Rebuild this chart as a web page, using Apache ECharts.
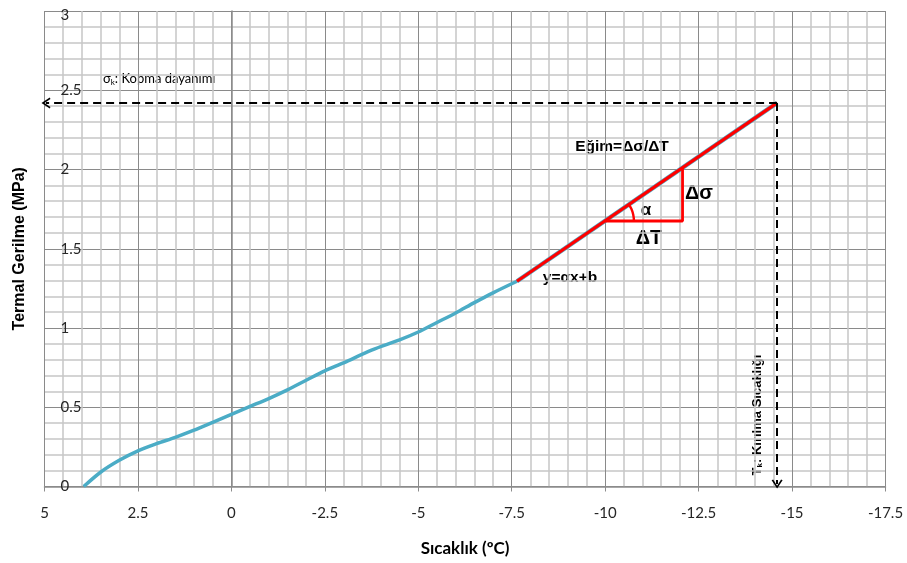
<!DOCTYPE html>
<html>
<head>
<meta charset="utf-8">
<script src="https://cdn.jsdelivr.net/npm/echarts@6/dist/echarts.min.js"></script>
<style>
  html, body { margin: 0; padding: 0; background: #fff; }
  #chart { width: 907px; height: 563px; }
</style>
</head>
<body>
<div id="chart"></div>
<script>
// Measured thermal stress vs. temperature (cooling test)
const temperature = [3.95, 3.5, 3.0, 2.5, 2.0, 1.5, 1.0, 0.5, 0, -0.5, -1.0, -1.5, -2.0, -2.5, -3.0,
                     -3.75, -4.5, -5.0, -5.5, -6.0, -6.5, -7.0, -7.64];
const stress      = [0, 0.09, 0.165, 0.225, 0.27, 0.31, 0.355, 0.405, 0.455, 0.505, 0.555, 0.61, 0.67, 0.73, 0.78,
                     0.86, 0.925, 0.975, 1.035, 1.095, 1.16, 1.222, 1.295];

// Linear stretch up to fracture, fitted as y = ax + b
const fitT = [-7.64, -14.6];
const fitS = [1.295, 2.42];

// Slope triangle (ΔT, Δσ) and the angle mark α
const triT = [-10.0, -12.07, -12.07];
const triS = [1.675, 1.675, 2.01];
const arcT = [-10.77, -10.75, -10.70, -10.63];
const arcS = [1.675, 1.716, 1.752, 1.779];

// Fracture point: strength σk and fracture temperature Tk
const fractureT = -14.6;
const fractureS = 2.42;

// Axis ranges and tick spacing
const xRange = [-17.5, 5], xStep = 2.5;
const yRange = [0, 3], yStep = 0.5;

const zip = (a, b) => a.map((v, i) => [v, b[i]]);

const chart = echarts.init(document.getElementById('chart'));
const labelFont = 'Lato, "Open Sans", sans-serif';
const boldFont = '"Liberation Sans", Arial, sans-serif';
const chevron = 'path://M0,10 L5,0 L10,10 L8.6,10.9 L5,3.6 L1.4,10.9 Z';

chart.setOption({
  animation: false,
  backgroundColor: '#ffffff',
  grid: { left: 44.5, right: 21.5, top: 11, bottom: 76.5, containLabel: false, outerBoundsMode: 'none' },
  xAxis: {
    type: 'value', inverse: true,
    min: xRange[0], max: xRange[1], interval: xStep,
    name: 'Sıcaklık (ºC)', nameLocation: 'middle', nameGap: 54,
    nameTextStyle: { fontFamily: labelFont, fontWeight: 'bold', fontSize: 17, color: '#000' },
    axisLine: { show: true, onZero: false, lineStyle: { color: '#8c8c8c', width: 1.5 } },
    axisTick: { show: true, length: 5, lineStyle: { color: '#8c8c8c' } },
    axisLabel: { margin: 19, fontFamily: labelFont, fontSize: 15, color: '#262626' },
    splitLine: { show: true, lineStyle: { color: '#8a8a8a', width: 1 } },
    minorTick: { show: false, splitNumber: 5 },
    minorSplitLine: { show: true, lineStyle: { color: '#c6c6c6', width: 1.5 } }
  },
  yAxis: {
    type: 'value',
    min: yRange[0], max: yRange[1], interval: yStep,
    name: 'Termal Gerilme (MPa)', nameLocation: 'middle', nameGap: 17,
    nameTextStyle: { fontFamily: boldFont, fontWeight: 'bold', fontSize: 16, color: '#000' },
    axisLine: { show: true, lineStyle: { color: '#8c8c8c', width: 1.5 } },
    axisTick: { show: false },
    axisLabel: {
      inside: true, margin: 16, fontFamily: labelFont, fontSize: 15, color: '#262626',
      formatter: v => v === yRange[1] ? '{top|' + v + '}' : String(v),
      rich: { top: { fontFamily: labelFont, fontSize: 15, color: '#262626', padding: [8, 0, 0, 0] } }
    },
    splitLine: { show: true, lineStyle: { color: '#8a8a8a', width: 1 } },
    minorTick: { show: false, splitNumber: 5 },
    minorSplitLine: { show: true, lineStyle: { color: '#c6c6c6', width: 1.5 } }
  },
  series: [
    {
      name: 'stress', type: 'line', smooth: 0.3, showSymbol: false,
      data: zip(temperature, stress),
      lineStyle: { color: '#4bacc6', width: 3.5 }, z: 3
    },
    {
      name: 'stress (linear part)', type: 'line', showSymbol: false,
      data: zip(fitT, fitS),
      lineStyle: { color: '#4bacc6', width: 4.5 }, z: 3
    },
    {
      name: 'fit', type: 'line', showSymbol: false,
      data: zip(fitT, fitS),
      lineStyle: { color: '#ff0000', width: 3.2 }, z: 4
    },
    {
      name: 'triangle', type: 'line', showSymbol: false,
      data: zip(triT, triS),
      lineStyle: { color: '#ff0000', width: 2.8 }, z: 4
    },
    {
      name: 'angle', type: 'line', smooth: true, showSymbol: false,
      data: zip(arcT, arcS),
      lineStyle: { color: '#ff0000', width: 2.4 }, z: 4
    },
    {
      name: 'fracture', type: 'line', data: [], silent: true,
      markLine: {
        silent: true, animation: false,
        symbol: ['none', chevron], symbolSize: [11, 9],
        label: { show: false },
        lineStyle: { color: '#000', type: [8, 5], width: 2 },
        emphasis: { disabled: true },
        data: [
          [{ coord: [fractureT, fractureS] }, { coord: [xRange[1] - 0.04, fractureS] }],
          [{ coord: [fractureT, fractureS] }, { coord: [fractureT, 0.015] }]
        ]
      }
    }
  ],
  graphic: [
    {
      type: 'text', left: 100, top: 68,
      style: {
        text: '{s|σ}{k|k}{s|: Kopma dayanımı}',
        backgroundColor: '#fff', padding: [4, 3],
        rich: {
          s: { fontFamily: labelFont, fontSize: 13, fill: '#000' },
          k: { fontFamily: labelFont, fontSize: 8, fill: '#000', padding: [6, 0, 0, 0] }
        }
      }
    },
    {
      type: 'text', x: 622, y: 147,
      style: {
        text: 'Eğim=Δσ/ΔT', align: 'center', verticalAlign: 'middle',
        fontFamily: boldFont, fontWeight: 'bold', fontSize: 15.5, fill: '#000',
        backgroundColor: '#fff', padding: [3, 4]
      }
    },
    {
      type: 'text', x: 699, y: 193,
      style: { text: 'Δσ', align: 'center', verticalAlign: 'middle',
        fontFamily: boldFont, fontWeight: 'bold', fontSize: 20, fill: '#000' }
    },
    {
      type: 'text', x: 646, y: 210,
      style: { text: 'α', align: 'center', verticalAlign: 'middle',
        fontFamily: boldFont, fontWeight: 'bold', fontSize: 17, fill: '#000' }
    },
    {
      type: 'text', x: 649, y: 238,
      style: { text: 'ΔT', align: 'center', verticalAlign: 'middle',
        fontFamily: boldFont, fontWeight: 'bold', fontSize: 20, fill: '#000' }
    },
    {
      type: 'text', x: 570, y: 278,
      style: { text: 'y=αx+b', align: 'center', verticalAlign: 'middle',
        fontFamily: boldFont, fontWeight: 'bold', fontSize: 15.5, fill: '#000' }
    },
    {
      type: 'text', x: 757, y: 415, rotation: Math.PI / 2,
      style: {
        text: '{s|T}{k|k}{s|: Kırılma Sıcaklığı}', align: 'center', verticalAlign: 'middle',
        backgroundColor: '#fff', padding: [1, 2],
        rich: {
          s: { fontFamily: boldFont, fontWeight: 'bold', fontSize: 13, fill: '#000' },
          k: { fontFamily: boldFont, fontWeight: 'bold', fontSize: 8, fill: '#000', padding: [6, 0, 0, 0] }
        }
      }
    }
  ]
});
</script>
</body>
</html>
